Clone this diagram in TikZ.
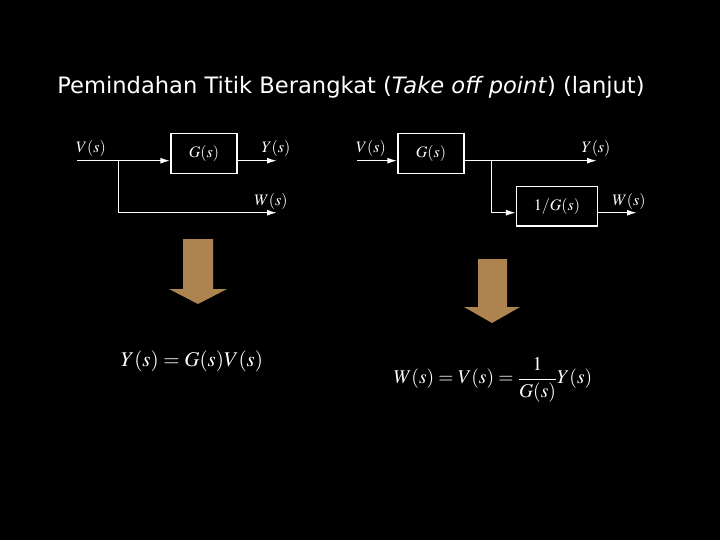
\documentclass[tikz,border=0pt]{standalone}
\usepackage{amsmath}
\usepackage{mathptmx}
\usepackage{fontspec}
\newfontfamily\judulfont{DejaVu Sans}
\usetikzlibrary{arrows.meta,positioning}
\definecolor{coklat}{HTML}{AD8450}

\begin{document}
\begin{tikzpicture}[x=1pt, y=-1pt,
  font=\fontsize{16}{18}\selectfont,
  blok/.style={draw=white, line width=1.5pt, minimum width=66pt, minimum height=40pt, inner sep=0pt, text=white},
  sinyal/.style={text=white, inner sep=0pt},
  panah/.style={draw=white, line width=1.5pt, -{Latex[length=10pt,width=6pt]}},
  tebal/.style={fill=coklat, draw=none},
  rumus/.style={text=white, font=\fontsize{21}{24}\selectfont}]
\fill[black] (0,0) rectangle (720,540);
\useasboundingbox (0,0) rectangle (720,540);
\node[text=white, font=\judulfont\fontsize{22.6}{26}\selectfont] (judul) at (351,87) {Pemindahan Titik Berangkat (\textit{Take off point}) (lanjut)};
% diagram kiri
\node[blok] (g1) at (204,153.3) {$G(s)$\hspace{10pt}};
\coordinate (v1) at (77,160.7);
\coordinate (cab1) at (118.3,160.7);
\coordinate (y1) at (277,160.7);
\coordinate (w1) at (277,212.7);
\draw[panah] (v1) -- (v1 -| g1.west);
\draw[panah] (v1 -| g1.east) -- (y1);
\draw[panah] (cab1) |- (w1);
\node[sinyal] (lv1) at (91,149) {$V(s)$};
\node[sinyal] (ly1) at (276,149) {$Y(s)$};
\node[sinyal] (lw1) at (271,202) {$W(s)$};
% diagram kanan
\node[blok] (g2) at (431,153.3) {$G(s)$\hspace{12pt}};
\node[blok, minimum width=80.6pt, minimum height=39.3pt] (ig2) at (557,206.3) {$1/G(s)$\hspace{12pt}};
\coordinate (v2) at (357,160.7);
\coordinate (cab2) at (491.7,160.7);
\coordinate (y2) at (597,160.7);
\coordinate (w2) at (637,212.7);
\draw[panah] (v2) -- (v2 -| g2.west);
\draw[panah] (v2 -| g2.east) -- (y2);
\draw[panah] (cab2) |- (ig2.west |- w2);
\draw[panah] (ig2.east |- w2) -- (w2);
\node[sinyal] (lv2) at (371,149) {$V(s)$};
\node[sinyal] (ly2) at (596,149) {$Y(s)$};
\node[sinyal] (lw2) at (629,202) {$W(s)$};
% panah besar
\fill[tebal] (183,239) -- (213,239) -- (213,289) -- (227,289) -- (198,304) -- (169,289) -- (183,289) -- cycle;
\fill[tebal] (478,259) -- (507,259) -- (507,307) -- (520,307) -- (492,323) -- (464,307) -- (478,307) -- cycle;
% rumus
\node[rumus] (f1) at (192,361) {$Y(s)=G(s)V(s)$};
\node[rumus, font=\fontsize{19.5}{23}\selectfont] (f2) at (493,380) {$W(s)=V(s)=\dfrac{1}{G(s)}Y(s)$};
\end{tikzpicture}
\end{document}
